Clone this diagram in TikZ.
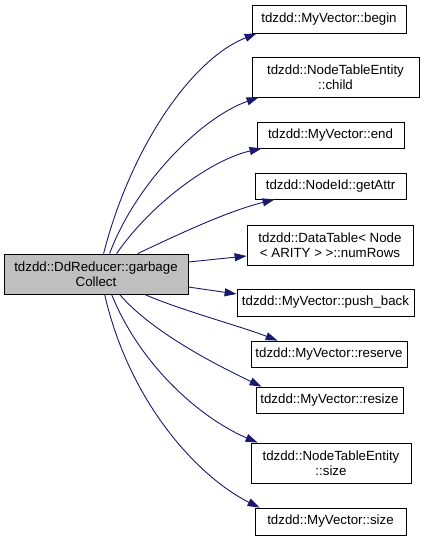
\documentclass[tikz,border=0pt]{standalone}
\usepackage{fontspec}
\setmainfont{Liberation Sans}
\usetikzlibrary{arrows.meta}
\definecolor{edgeblue}{HTML}{191970}
\definecolor{srcgray}{HTML}{BFBFBF}
\tikzset{
  box/.style={draw=black, line width=0.8pt, fill=white, align=center, inner sep=0pt,
    font=\fontsize{13.3}{15}\selectfont},
  srcbox/.style={box, fill=srcgray},
  edge/.style={draw=edgeblue, line width=0.9pt, -{Triangle[length=12pt,width=8pt]}}
}
\begin{document}
\begin{tikzpicture}[x=1pt,y=-1pt]
\useasboundingbox (0,0) rectangle (431,541);
\node[srcbox, minimum width=184pt, minimum height=40pt] (src) at (96,274) {tdzdd::DdReducer::garbage\\Collect};
\node[box, minimum width=154pt, minimum height=28pt] (begin) at (329,19) {tdzdd::MyVector::begin};
\node[box, minimum width=167pt, minimum height=40pt] (child) at (335.5,77) {tdzdd::NodeTableEntity\\::child};
\node[box, minimum width=147pt, minimum height=26pt] (end) at (330.5,135) {tdzdd::MyVector::end};
\node[box, minimum width=151pt, minimum height=26pt] (getattr) at (330.5,186) {tdzdd::NodeId::getAttr};
\node[box, minimum width=166pt, minimum height=40pt] (numrows) at (330,245) {tdzdd::DataTable< Node\\< ARITY > >::numRows};
\node[box, minimum width=177pt, minimum height=27pt] (pushback) at (325.5,302.5) {tdzdd::MyVector::push\_back};
\node[box, minimum width=156pt, minimum height=26pt] (reserve) at (329,354) {tdzdd::MyVector::reserve};
\node[box, minimum width=147pt, minimum height=26pt] (resize) at (329.5,400) {tdzdd::MyVector::resize};
\node[box, minimum width=160pt, minimum height=40pt] (ntesize) at (331,463) {tdzdd::NodeTableEntity\\::size};
\node[box, minimum width=151pt, minimum height=27pt] (mvsize) at (330.5,521.5) {tdzdd::MyVector::size};

\draw[edge] ([xshift=100pt]src.north west) .. controls (130,150) and (190,60) .. ([xshift=5pt]begin.south west);
\draw[edge] ([xshift=106pt]src.north west) .. controls (135,185) and (200,118) .. ([xshift=7pt]child.south west);
\draw[edge] ([xshift=113pt]src.north west) .. controls (150,205) and (210,160) .. ([xshift=5pt]end.south west);
\draw[edge] ([xshift=134pt]src.north west) .. controls (175,236) and (225,212) .. ([xshift=20pt]getattr.south west);
\draw[edge] ([yshift=12pt]src.east) -- ([yshift=-11pt]numrows.west);
\draw[edge] ([yshift=-13pt]src.east) -- ([yshift=8.5pt]pushback.west);
\draw[edge] ([xshift=141pt]src.south west) .. controls (180,310) and (240,326) .. ([xshift=27pt]reserve.north west);
\draw[edge] ([xshift=116pt]src.south west) .. controls (150,330) and (210,362) .. ([xshift=6pt]resize.north west);
\draw[edge] ([xshift=108pt]src.south west) .. controls (140,365) and (200,418) .. ([xshift=7pt]ntesize.north west);
\draw[edge] ([xshift=101pt]src.south west) .. controls (130,405) and (200,478) .. ([xshift=5pt]mvsize.north west);
\end{tikzpicture}
\end{document}
